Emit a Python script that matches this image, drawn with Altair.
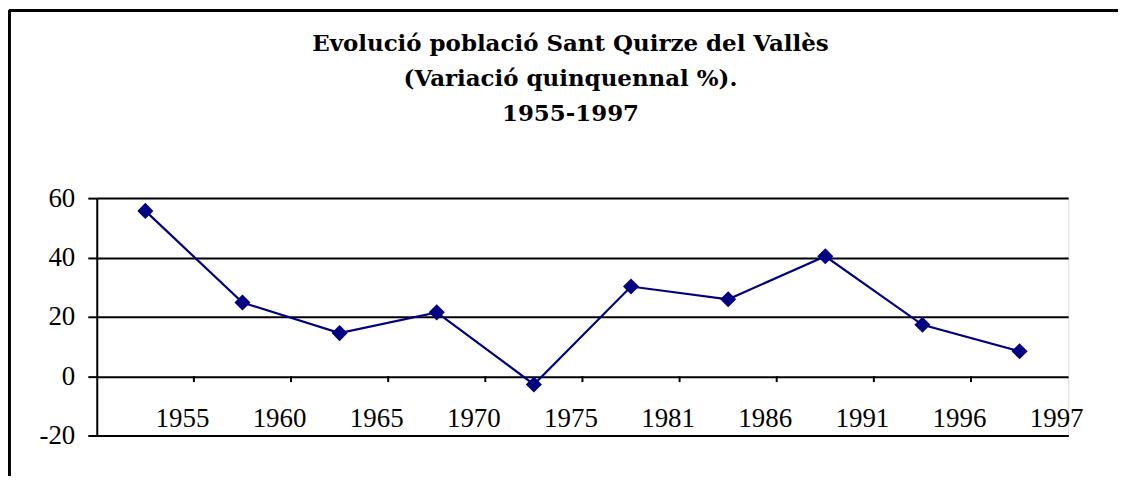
import altair as alt
import pandas as pd

# Data
years = ["1955", "1960", "1965", "1970", "1975", "1981", "1986", "1991", "1996", "1997"]
variation = [55.7, 24.8, 14.5, 21.5, -2.8, 30.2, 25.9, 40.4, 17.3, 8.4]
tick_positions = [1, 2, 3, 4, 5, 6, 7, 8, 9]
y_ticks = [-20, 0, 20, 40, 60]

title_lines = [
    "Evolució població Sant Quirze del Vallès",
    "(Variació quinquennal %).",
    "1955-1997",
]

NAVY = "#000080"
FONT = "Liberation Serif"
TITLE_FONT = "DejaVu Serif"

df = pd.DataFrame({
    "pos": [i + 0.5 for i in range(len(years))],
    "year": years,
    "value": variation,
})
ticks_df = pd.DataFrame({"pos": tick_positions})

label_array = "[" + ",".join("'" + y + "'" for y in years) + "]"

x_enc = alt.X(
    "pos:Q",
    scale=alt.Scale(domain=[0, len(years)], nice=False, zero=False),
    axis=alt.Axis(
        values=list(range(1, len(years) + 1)),
        labelExpr=label_array + "[datum.value - 1]",
        ticks=False,
        tickSize=0,
        grid=False,
        domain=True,
        domainColor="black",
        domainWidth=2,
        labelFont=FONT,
        labelFontSize=27,
        labelColor="black",
        labelBaseline="alphabetic",
        labelPadding=-9,
        labelOffset=-12,
        labelFlush=False,
        labelOverlap=False,
        title=None,
    ),
)
y_enc = alt.Y(
    "value:Q",
    scale=alt.Scale(domain=[-20, 60], nice=False),
    axis=alt.Axis(
        values=y_ticks,
        labelExpr="(datum.value < 0 ? '-' : '') + abs(datum.value)",
        grid=True,
        gridColor="black",
        gridWidth=2,
        gridOpacity=1,
        ticks=True,
        tickSize=9,
        tickColor="black",
        tickWidth=2,
        domain=True,
        domainColor="black",
        domainWidth=2,
        labelFont=FONT,
        labelFontSize=27,
        labelColor="black",
        labelPadding=13,
        labelFlush=False,
        title=None,
    ),
)

base = alt.Chart(df)

line = base.mark_line(color=NAVY, strokeWidth=2.2).encode(x=x_enc, y=y_enc)
points = base.mark_point(
    shape="diamond", filled=True, size=260, color=NAVY, opacity=1
).encode(x="pos:Q", y="value:Q")

xticks = alt.Chart(ticks_df).mark_rule(color="black", strokeWidth=2).encode(
    x="pos:Q",
    y=alt.datum(0),
    y2=alt.datum(-2),
)

# Outer frame of the chart object
frame_left = base.mark_rule(color="black", strokeWidth=2.5).encode(
    x=alt.value(-88), y=alt.value(-188), y2=alt.value(400)
)
frame_top = base.mark_rule(color="black", strokeWidth=2.5).encode(
    x=alt.value(-88), x2=alt.value(1100), y=alt.value(-188)
)

chart = alt.layer(frame_left, frame_top, xticks, line, points).properties(
    width=974,
    height=238,
    title=alt.TitleParams(
        text=title_lines,
        font=TITLE_FONT,
        fontSize=23,
        fontWeight="bold",
        color="black",
        lineHeight=35,
        anchor="middle",
        frame="group",
        offset=-117,
        dx=-12,
    ),
    autosize=alt.AutoSizeParams(type="none"),
    padding={"left": 89, "top": 190, "right": 50, "bottom": 40},
).configure_view(
    stroke="black", strokeWidth=2
).configure(background="white")

chart.save("out.html", embed_options={"renderer": "svg", "actions": False})
